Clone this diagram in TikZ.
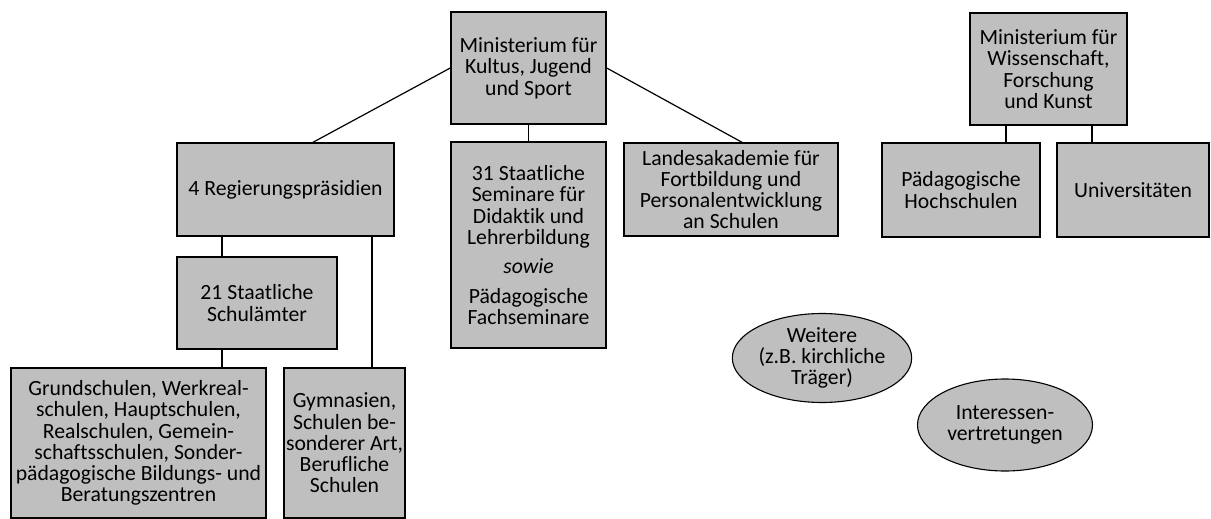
\documentclass[tikz,border=0pt]{standalone}
\usepackage{fontspec}
\setmainfont{Carlito}[Ligatures=NoCommon]
\usetikzlibrary{shapes.geometric}

\begin{document}
\begin{tikzpicture}[x=1pt,y=-1pt,
        box/.style={draw,line width=1.4pt,fill=gray!50,align=center,inner sep=2pt,
                    font=\fontsize{21.7}{21.3}\selectfont},
        oval/.style={ellipse,draw,line width=1.1pt,fill=gray!50,align=center,inner sep=0pt,
                    font=\fontsize{21.7}{21.3}\selectfont},
        link/.style={line width=1.2pt}]
        % fix the size of the page
        \useasboundingbox (0,0) rectangle (1211,519);

        % the ministry for schools and what hangs below it
        \node[box,minimum width=155,minimum height=112] (kjs) at (528.5,68)
            {Ministerium für\\Kultus, Jugend\\und Sport};
        \node[box,minimum width=217,minimum height=93] (rp) at (285.5,189.5)
            {4 Regierungspräsidien};
        \node[box,minimum width=155,minimum height=206] (sem) at (528.5,245)
            {31 Staatliche\\Seminare für\\Didaktik und\\Lehrerbildung\\[8pt]
             \textit{sowie}\\[8pt]Pädagogische\\Fachseminare};
        \node[box,minimum width=214,minimum height=93] (lak) at (731,189.5)
            {Landesakademie für\\Fortbildung und\\Personalentwicklung\\an Schulen};
        \node[box,minimum width=160,minimum height=92] (sa) at (257,303)
            {21 Staatliche\\Schulämter};
        \node[box,minimum width=255,minimum height=150] (gs) at (138.5,443)
            {Grundschulen, Werkreal-\\schulen, Hauptschulen,\\Realschulen, Gemein-\\
             schaftsschulen, Sonder-\\pädagogische Bildungs- und\\Beratungszentren};
        \node[box,minimum width=117,minimum height=150] (gym) at (344.5,443)
            {Gymnasien,\\Schulen be-\\sonderer Art,\\Berufliche\\Schulen};

        % the ministry for science
        \node[box,minimum width=157,minimum height=112] (mwfk) at (1048.5,69)
            {Ministerium für\\Wissenschaft,\\Forschung\\und Kunst};
        \node[box,minimum width=158,minimum height=94] (ph) at (961,190)
            {Pädagogische\\Hochschulen};
        \node[box,minimum width=152,minimum height=94] (uni) at (1133,190)
            {Universitäten};

        % the others
        \node[oval,minimum width=175,minimum height=89] (weit) at (822,358)
            {Weitere\\(z.B. kirchliche\\Träger)};
        \node[oval,minimum width=175,minimum height=92] (intv) at (1005,425)
            {Interessen-\\vertretungen};

        % where the vertical lines run
        \coordinate (c1) at (222,0);
        \coordinate (c2) at (372,0);
        \coordinate (c3) at (1006,0);
        \coordinate (c4) at (1092,0);

        % connectors
        \draw[link] (kjs.west) -- ([xshift=27.5pt]rp.north);
        \draw[link] (kjs.east) -- ([xshift=11pt]lak.north);
        \draw[link] (kjs.south) -- (sem.north);
        \draw[link] (rp.south -| c1) -- (sa.north -| c1);
        \draw[link] (sa.south -| c1) -- (gs.north -| c1);
        \draw[link] (rp.south -| c2) -- (gym.north -| c2);
        \draw[link] (mwfk.south -| c3) -- (ph.north -| c3);
        \draw[link] (mwfk.south -| c4) -- (uni.north -| c4);
    \end{tikzpicture}
\end{document}
